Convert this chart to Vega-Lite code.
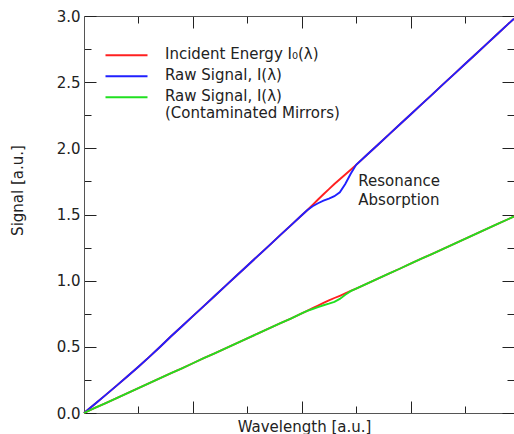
{
  "$schema": "https://vega.github.io/schema/vega-lite/v6.json",
  "width": 430,
  "height": 397,
  "autosize": {"type": "none"},
  "padding": {"left": 84, "top": 16, "right": 0, "bottom": 21},
  "config": {
    "view": {"stroke": null},
    "font": "DejaVu Sans",
    "axis": {
      "grid": false,
      "domainColor": "#555555",
      "tickColor": "#222222",
      "labelColor": "#222222",
      "titleColor": "#222222",
      "labelFont": "DejaVu Sans",
      "titleFont": "DejaVu Sans",
      "titleFontWeight": "normal",
      "labelFontSize": 15,
      "titleFontSize": 15,
      "tickWidth": 1,
      "domainWidth": 1
    },
    "style": {"guide-label": {"lineHeight": 17}}
  },
  "datasets": {
    "red1": [
      {"x": 0, "y": 0}, {"x": 0.2, "y": 0.068}, {"x": 0.4, "y": 0.137}, {"x": 0.6, "y": 0.207},
      {"x": 0.8, "y": 0.277}, {"x": 1.0, "y": 0.349}, {"x": 1.2, "y": 0.424}, {"x": 1.4, "y": 0.501},
      {"x": 1.6, "y": 0.58}, {"x": 1.8, "y": 0.656}, {"x": 2.0, "y": 0.732}, {"x": 2.2, "y": 0.808},
      {"x": 2.4, "y": 0.884}, {"x": 2.6, "y": 0.961}, {"x": 2.8, "y": 1.037}, {"x": 3.0, "y": 1.113},
      {"x": 3.2, "y": 1.189}, {"x": 3.4, "y": 1.265}, {"x": 3.6, "y": 1.342}, {"x": 3.8, "y": 1.418},
      {"x": 4.0, "y": 1.494}, {"x": 4.1, "y": 1.532}, {"x": 4.2, "y": 1.572}, {"x": 4.3, "y": 1.613},
      {"x": 4.4, "y": 1.653}, {"x": 4.5, "y": 1.692}, {"x": 4.6, "y": 1.73}, {"x": 4.7, "y": 1.766},
      {"x": 4.8, "y": 1.802}, {"x": 4.9, "y": 1.838}, {"x": 5.0, "y": 1.875}, {"x": 5.2, "y": 1.951},
      {"x": 5.4, "y": 2.027}, {"x": 5.6, "y": 2.104}, {"x": 5.8, "y": 2.18}, {"x": 6.0, "y": 2.256},
      {"x": 6.2, "y": 2.332}, {"x": 6.4, "y": 2.408}, {"x": 6.6, "y": 2.485}, {"x": 6.8, "y": 2.561},
      {"x": 7.0, "y": 2.637}, {"x": 7.2, "y": 2.713}, {"x": 7.4, "y": 2.789}, {"x": 7.6, "y": 2.866},
      {"x": 7.8, "y": 2.942}, {"x": 7.9, "y": 2.98}
    ],
    "blue": [
      {"x": 0, "y": 0}, {"x": 0.2, "y": 0.068}, {"x": 0.4, "y": 0.137}, {"x": 0.6, "y": 0.207},
      {"x": 0.8, "y": 0.277}, {"x": 1.0, "y": 0.349}, {"x": 1.2, "y": 0.424}, {"x": 1.4, "y": 0.501},
      {"x": 1.6, "y": 0.58}, {"x": 1.8, "y": 0.656}, {"x": 2.0, "y": 0.732}, {"x": 2.2, "y": 0.808},
      {"x": 2.4, "y": 0.884}, {"x": 2.6, "y": 0.961}, {"x": 2.8, "y": 1.037}, {"x": 3.0, "y": 1.113},
      {"x": 3.2, "y": 1.189}, {"x": 3.4, "y": 1.265}, {"x": 3.6, "y": 1.342}, {"x": 3.8, "y": 1.418},
      {"x": 4.0, "y": 1.494}, {"x": 4.1, "y": 1.532}, {"x": 4.2, "y": 1.562}, {"x": 4.3, "y": 1.585},
      {"x": 4.4, "y": 1.604}, {"x": 4.5, "y": 1.62}, {"x": 4.6, "y": 1.638}, {"x": 4.7, "y": 1.668},
      {"x": 4.8, "y": 1.73}, {"x": 4.9, "y": 1.808}, {"x": 5.0, "y": 1.875}, {"x": 5.2, "y": 1.951},
      {"x": 5.4, "y": 2.027}, {"x": 5.6, "y": 2.104}, {"x": 5.8, "y": 2.18}, {"x": 6.0, "y": 2.256},
      {"x": 6.2, "y": 2.332}, {"x": 6.4, "y": 2.408}, {"x": 6.6, "y": 2.485}, {"x": 6.8, "y": 2.561},
      {"x": 7.0, "y": 2.637}, {"x": 7.2, "y": 2.713}, {"x": 7.4, "y": 2.789}, {"x": 7.6, "y": 2.866},
      {"x": 7.8, "y": 2.942}, {"x": 7.9, "y": 2.98}
    ],
    "red2": [
      {"x": 0, "y": 0}, {"x": 0.2, "y": 0.038}, {"x": 0.4, "y": 0.075}, {"x": 0.6, "y": 0.113},
      {"x": 0.8, "y": 0.15}, {"x": 1.0, "y": 0.188}, {"x": 1.2, "y": 0.226}, {"x": 1.4, "y": 0.263},
      {"x": 1.6, "y": 0.301}, {"x": 1.8, "y": 0.338}, {"x": 2.0, "y": 0.376}, {"x": 2.2, "y": 0.414},
      {"x": 2.4, "y": 0.451}, {"x": 2.6, "y": 0.489}, {"x": 2.8, "y": 0.526}, {"x": 3.0, "y": 0.564},
      {"x": 3.2, "y": 0.602}, {"x": 3.4, "y": 0.639}, {"x": 3.6, "y": 0.677}, {"x": 3.8, "y": 0.714},
      {"x": 4.0, "y": 0.752}, {"x": 4.1, "y": 0.771}, {"x": 4.2, "y": 0.792}, {"x": 4.3, "y": 0.812},
      {"x": 4.4, "y": 0.832}, {"x": 4.5, "y": 0.851}, {"x": 4.6, "y": 0.869}, {"x": 4.7, "y": 0.886},
      {"x": 4.8, "y": 0.904}, {"x": 4.9, "y": 0.922}, {"x": 5.0, "y": 0.94}, {"x": 5.2, "y": 0.978},
      {"x": 5.4, "y": 1.015}, {"x": 5.6, "y": 1.053}, {"x": 5.8, "y": 1.09}, {"x": 6.0, "y": 1.128},
      {"x": 6.2, "y": 1.166}, {"x": 6.4, "y": 1.203}, {"x": 6.6, "y": 1.241}, {"x": 6.8, "y": 1.278},
      {"x": 7.0, "y": 1.316}, {"x": 7.2, "y": 1.354}, {"x": 7.4, "y": 1.391}, {"x": 7.6, "y": 1.429},
      {"x": 7.8, "y": 1.466}, {"x": 7.9, "y": 1.485}
    ],
    "green": [
      {"x": 0, "y": 0}, {"x": 0.2, "y": 0.038}, {"x": 0.4, "y": 0.075}, {"x": 0.6, "y": 0.113},
      {"x": 0.8, "y": 0.15}, {"x": 1.0, "y": 0.188}, {"x": 1.2, "y": 0.226}, {"x": 1.4, "y": 0.263},
      {"x": 1.6, "y": 0.301}, {"x": 1.8, "y": 0.338}, {"x": 2.0, "y": 0.376}, {"x": 2.2, "y": 0.414},
      {"x": 2.4, "y": 0.451}, {"x": 2.6, "y": 0.489}, {"x": 2.8, "y": 0.526}, {"x": 3.0, "y": 0.564},
      {"x": 3.2, "y": 0.602}, {"x": 3.4, "y": 0.639}, {"x": 3.6, "y": 0.677}, {"x": 3.8, "y": 0.714},
      {"x": 4.0, "y": 0.752}, {"x": 4.1, "y": 0.771}, {"x": 4.2, "y": 0.786}, {"x": 4.3, "y": 0.8},
      {"x": 4.4, "y": 0.814}, {"x": 4.5, "y": 0.826}, {"x": 4.6, "y": 0.84}, {"x": 4.7, "y": 0.862},
      {"x": 4.8, "y": 0.893}, {"x": 4.9, "y": 0.921}, {"x": 5.0, "y": 0.94}, {"x": 5.2, "y": 0.978},
      {"x": 5.4, "y": 1.015}, {"x": 5.6, "y": 1.053}, {"x": 5.8, "y": 1.09}, {"x": 6.0, "y": 1.128},
      {"x": 6.2, "y": 1.166}, {"x": 6.4, "y": 1.203}, {"x": 6.6, "y": 1.241}, {"x": 6.8, "y": 1.278},
      {"x": 7.0, "y": 1.316}, {"x": 7.2, "y": 1.354}, {"x": 7.4, "y": 1.391}, {"x": 7.6, "y": 1.429},
      {"x": 7.8, "y": 1.466}, {"x": 7.9, "y": 1.485}
    ]
  },
  "layer": [
    {
      "data": {"name": "red1"},
      "mark": {"type": "line", "strokeWidth": 1.9},
      "encoding": {
        "x": {
          "field": "x", "type": "quantitative",
          "scale": {"domain": [0, 7.9], "nice": false, "zero": false},
          "axis": {
            "orient": "bottom",
            "values": [1, 2, 3, 4, 5, 6, 7],
            "labels": false,
            "domain": true,
            "tickSize": {"condition": {"test": "datum.value % 2 == 0", "value": -12}, "value": -7},
            "title": "Wavelength [a.u.]",
            "titleX": 220,
            "titleY": 18,
            "titleAlign": "center",
            "titleBaseline": "alphabetic"
          }
        },
        "y": {
          "field": "y", "type": "quantitative",
          "scale": {"domain": [0, 3], "nice": false, "zero": false},
          "axis": {
            "orient": "left",
            "values": [0, 0.25, 0.5, 0.75, 1, 1.25, 1.5, 1.75, 2, 2.25, 2.5, 2.75, 3],
            "labelExpr": "datum.value % 0.5 == 0 ? format(datum.value, '.1f') : ''",
            "tickSize": {"condition": {"test": "datum.value % 0.5 == 0", "value": -12}, "value": -7},
            "labelPadding": 16,
            "domain": true,
            "title": "Signal [a.u.]",
            "titleX": -67,
            "titleY": 174,
            "titleAngle": -90,
            "titleAlign": "center",
            "titleBaseline": "middle"
          }
        },
        "color": {
          "datum": "I0", "type": "nominal",
          "scale": {"domain": ["I0", "I", "Ic"], "range": ["#ff2020", "#2020ff", "#20e020"]},
          "legend": {
            "orient": "none",
            "legendX": 35,
            "legendY": 23,
            "title": null,
            "padding": 0,
            "symbolType": "M-5.25,2.2H5.25",
            "symbolSize": 64,
            "symbolStrokeWidth": 2,
            "symbolFillColor": "transparent",
            "labelFontSize": 15,
            "labelFont": "DejaVu Sans",
            "labelColor": "#222222",
            "labelBaseline": "top",
            "labelOffset": 31,
            "labelLimit": 400,
            "rowPadding": -2,
            "gridAlign": "none",
            "labelExpr": "datum.value == 'I0' ? 'Incident Energy I₀(λ)' : datum.value == 'I' ? 'Raw Signal, I(λ)' : ['Raw Signal, I(λ)', '(Contaminated Mirrors)']"
          }
        }
      }
    },
    {
      "data": {"name": "blue"},
      "mark": {"type": "line", "strokeWidth": 1.9},
      "encoding": {
        "x": {
          "field": "x", "type": "quantitative",
          "axis": {
            "orient": "top",
            "values": [1, 2, 3, 4, 5, 6, 7],
            "labels": false,
            "domain": true,
            "tickSize": {"condition": {"test": "datum.value % 2 == 0", "value": -12}, "value": -7},
            "title": null
          }
        },
        "y": {
          "field": "y", "type": "quantitative",
          "axis": {
            "orient": "right",
            "values": [0, 0.25, 0.5, 0.75, 1, 1.25, 1.5, 1.75, 2, 2.25, 2.5, 2.75, 3],
            "labels": false,
            "domain": false,
            "tickSize": {"condition": {"test": "datum.value % 0.5 == 0", "value": -12}, "value": -7},
            "title": null
          }
        },
        "color": {"datum": "I", "type": "nominal"}
      }
    },
    {
      "data": {"name": "red2"},
      "mark": {"type": "line", "strokeWidth": 1.9},
      "encoding": {
        "x": {"field": "x", "type": "quantitative", "axis": null},
        "y": {"field": "y", "type": "quantitative", "axis": null},
        "color": {"datum": "I0", "type": "nominal"}
      }
    },
    {
      "data": {"name": "green"},
      "mark": {"type": "line", "strokeWidth": 1.9},
      "encoding": {
        "x": {"field": "x", "type": "quantitative", "axis": null},
        "y": {"field": "y", "type": "quantitative", "axis": null},
        "color": {"datum": "Ic", "type": "nominal"}
      }
    },
    {
      "data": {"values": [{}]},
      "mark": {"type": "text", "align": "left", "baseline": "middle", "lineBreak": "\n", "fontSize": 15, "lineHeight": 19, "color": "#222222", "font": "DejaVu Sans", "text": "Resonance\nAbsorption"},
      "encoding": {
        "x": {"datum": 5.04, "type": "quantitative", "axis": null},
        "y": {"datum": 1.751, "type": "quantitative", "axis": null}
      }
    }
  ],
  "resolve": {"axis": {"x": "independent", "y": "independent"}}
}
